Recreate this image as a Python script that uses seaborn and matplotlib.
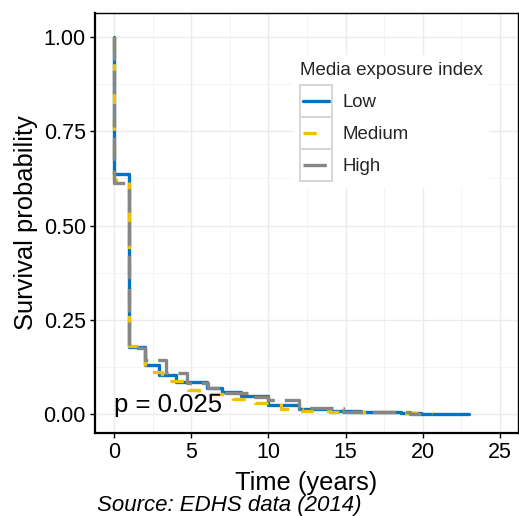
import numpy as np
import pandas as pd
import matplotlib
matplotlib.use("Agg")
import matplotlib.pyplot as plt
import seaborn as sns
from matplotlib.lines import Line2D
from matplotlib.patches import Rectangle
from matplotlib.legend_handler import HandlerBase

# ---- data ----
groups = ["Low", "Medium", "High"]

low_time = [0, 0, 1, 2, 2.9, 4, 6, 7, 8.2, 10, 12, 14, 16, 18.6, 19.9, 23]
low_surv = [1.0, 0.637, 0.178, 0.130, 0.103, 0.086, 0.068, 0.058, 0.047, 0.025,
            0.012, 0.007, 0.005, 0.003, 0.0, 0.0]

med_time = [0, 0, 1, 1.5, 2, 3.1, 4.8, 5.5, 7.7, 9.1, 10.8, 12.2, 14, 16.8, 18, 20.6]
med_surv = [1.0, 0.620, 0.180, 0.165, 0.112, 0.087, 0.063, 0.052, 0.040, 0.028,
            0.013, 0.009, 0.006, 0.004, 0.002, 0.002]

high_time = [0, 0, 1, 2, 3.4, 4.7, 6.1, 7, 8.8, 10, 12, 14.8, 17, 19.2, 19.9]
high_surv = [1.0, 0.612, 0.176, 0.143, 0.110, 0.082, 0.068, 0.056, 0.046, 0.036,
             0.017, 0.006, 0.004, 0.001, 0.001]

x_ticks = [0, 5, 10, 15, 20, 25]
y_ticks = [0.00, 0.25, 0.50, 0.75, 1.00]
y_tick_labels = ["0.00", "0.25", "0.50", "0.75", "1.00"]
p_text = "p = 0.025"

colors = {"Low": "#0073C2", "Medium": "#EFC000", "High": "#868686"}
dash_map = {"Low": "", "Medium": (4, 4), "High": (7, 3)}

df = pd.concat([
    pd.DataFrame({"time": low_time, "surv": low_surv, "strata": "Low"}),
    pd.DataFrame({"time": med_time, "surv": med_surv, "strata": "Medium"}),
    pd.DataFrame({"time": high_time, "surv": high_surv, "strata": "High"}),
], ignore_index=True)

sns.set_theme(style="white")
plt.rcParams["font.family"] = ["Liberation Sans", "DejaVu Sans"]

W, H = 519, 516
fig = plt.figure(figsize=(W / 100, H / 100), dpi=100)
ax = fig.add_axes([95 / W, (H - 433) / H, (517.5 - 95) / W, (433 - 13) / H])

sns.lineplot(data=df, x="time", y="surv", hue="strata", style="strata",
             hue_order=groups, style_order=groups, palette=colors,
             dashes=dash_map, estimator=None, sort=False,
             drawstyle="steps-post", linewidth=2.4, legend=False, ax=ax)

ax.set_xlim(-1.23, 26.13)
ax.set_ylim(-0.0504, 1.0637)
ax.set_xticks(x_ticks)
ax.set_xticks(np.arange(2.5, 26, 5), minor=True)
ax.set_yticks(y_ticks)
ax.set_yticklabels(y_tick_labels)
ax.set_yticks(np.arange(0.125, 1.0, 0.25), minor=True)
ax.grid(which="major", color="#EBEBEB", lw=1.0)
ax.grid(which="minor", color="#F3F3F3", lw=0.6)
ax.set_axisbelow(True)
ax.tick_params(which="major", length=3.6, width=1.0, color="black",
               labelsize=15.5, labelcolor="black", pad=3, direction="out",
               bottom=True, left=True)
ax.tick_params(which="minor", length=0)
for side, sp in ax.spines.items():
    sp.set_color("black")
    sp.set_linewidth(1.6 if side in ("left", "bottom") else 1.0)

ax.set_xlabel("Time (years)", fontsize=18.4, labelpad=5.5, color="black")
ax.set_ylabel("Survival probability", fontsize=18.4, labelpad=4, color="black")

ax.text(0, 0.024, p_text, fontsize=18.5, ha="left", va="center", color="black")


class BoxedLine(HandlerBase):
    def create_artists(self, legend, orig_handle, xdescent, ydescent,
                       width, height, fontsize, trans):
        box = Rectangle((-xdescent, -ydescent), width, height,
                        facecolor="white", edgecolor="#D6D6D6", lw=1.4,
                        transform=trans)
        inset = 0.1 * width
        yc = -ydescent + height / 2
        line = Line2D([-xdescent + inset, -xdescent + width - inset], [yc, yc])
        line.update_from(orig_handle)
        line.set_transform(trans)
        return [box, line]


handles = []
for g in groups:
    h = Line2D([], [], color=colors[g], lw=2.4)
    if dash_map[g]:
        h.set_dashes(dash_map[g])
    handles.append(h)

leg = ax.legend(handles, groups, title="Media exposure index",
                handler_map={Line2D: BoxedLine()},
                loc="upper left", bbox_to_anchor=(293 / W, (H - 55) / H),
                bbox_transform=fig.transFigure, frameon=True, fancybox=False,
                fontsize=13.4, title_fontsize=13.5, labelspacing=0,
                handleheight=2.26, handlelength=1.77, handletextpad=0.55,
                borderpad=0.35, borderaxespad=0, alignment="left")
leg._legend_box.sep = 5
leg.get_frame().set_facecolor("white")
leg.get_frame().set_edgecolor("none")
leg.get_frame().set_alpha(1)

fig.text(97 / W, (H - 505) / H, "Source: EDHS data (2014)", fontsize=16,
         style="italic", ha="left", va="center", color="black")

fig.savefig("out.png", dpi=100, facecolor="white")
